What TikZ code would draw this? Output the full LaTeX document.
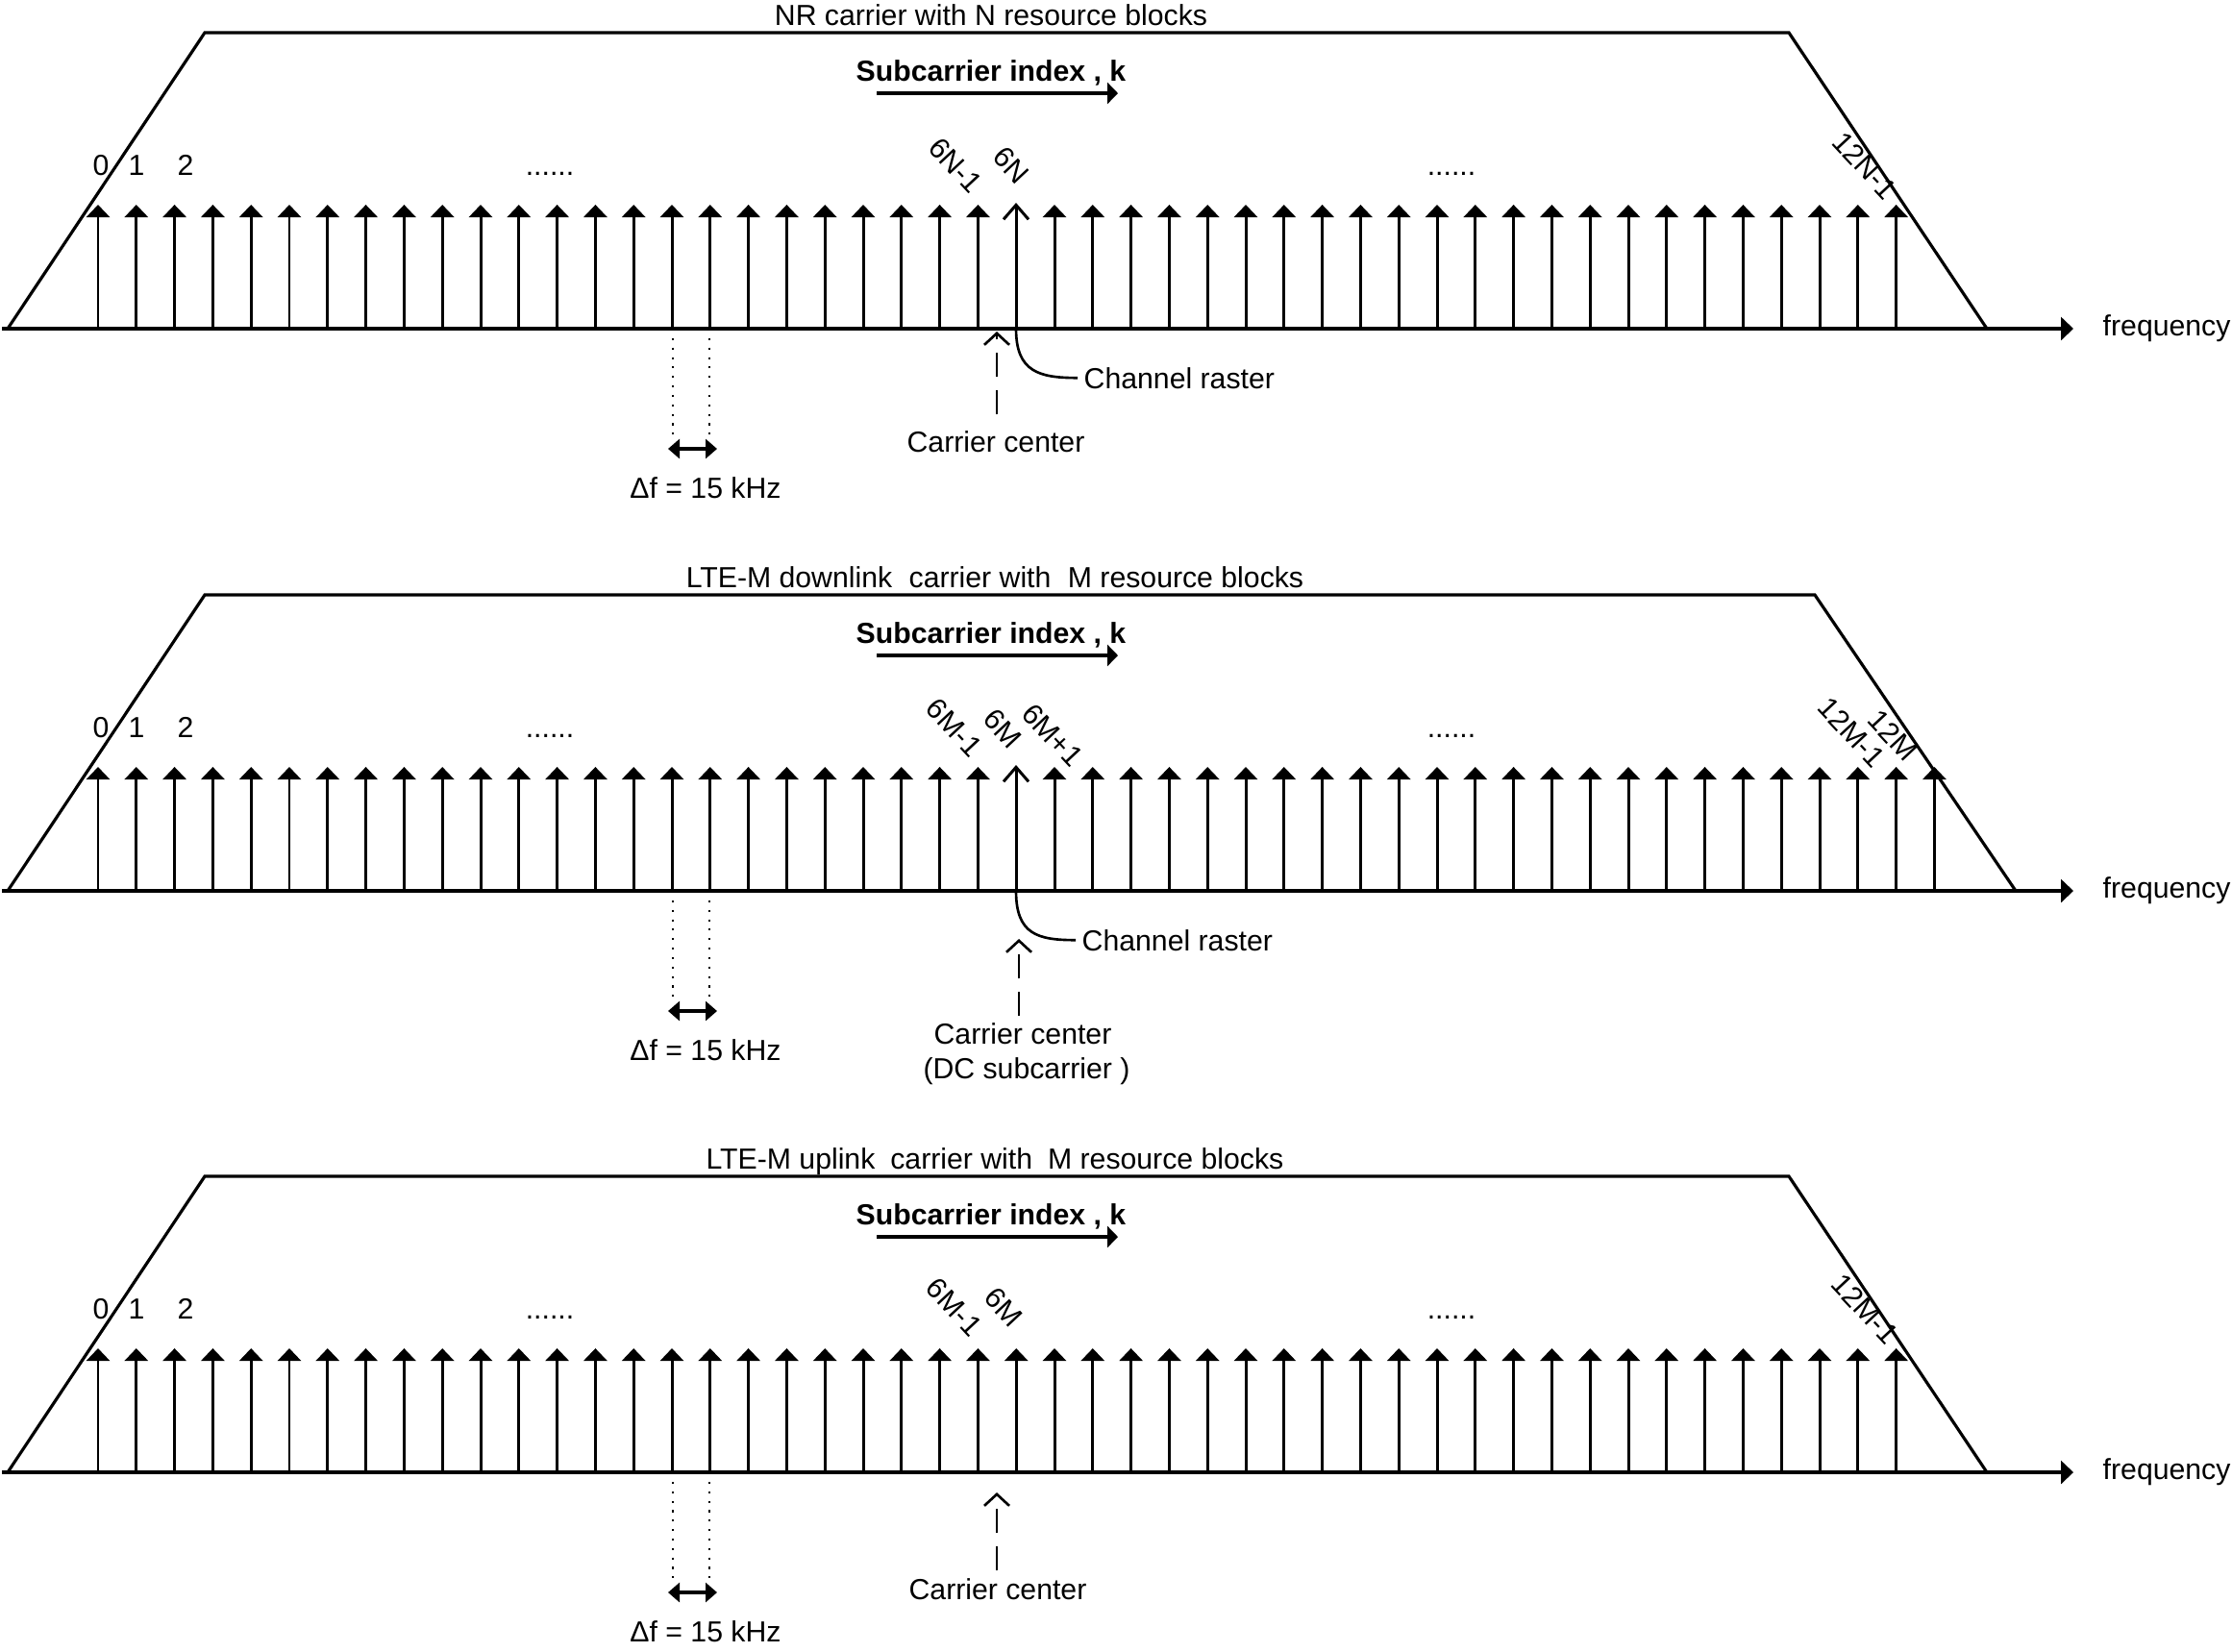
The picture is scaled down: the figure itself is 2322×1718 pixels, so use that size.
\documentclass[tikz,border=0pt]{standalone}
\usepackage{fontspec}
\setmainfont{Liberation Sans}
\usetikzlibrary{arrows.meta}
\newcommand{\figfont}{\fontsize{8.6pt}{10.8pt}\selectfont}
\tikzset{
  band/.style={line width=0.9pt,line join=miter},
  faxis/.style={line width=1.3pt,-{Triangle[length=1.3mm,width=2.4mm]}},
  kaxis/.style={line width=0.95pt,-{Triangle[length=1.1mm,width=2.2mm]}},
  subc/.style={line width=0.85pt,-{Triangle[length=1.3mm,width=2.4mm]}},
  dcsubc/.style={line width=0.85pt,-{Straight Barb[length=1.5mm,width=2.6mm]}},
  guide/.style={line width=0.6pt,dash pattern=on 0.6pt off 2.2pt},
  dfreq/.style={line width=0.95pt,{Triangle[length=1.2mm,width=2mm]}-{Triangle[length=1.2mm,width=2mm]}},
  ccmark/.style={line width=0.75pt,dash pattern=on 2.5mm off 1.4mm,-{Straight Barb[length=1.2mm,width=2.6mm]}},
  rasterline/.style={line width=0.75pt},
  lbl/.style={inner sep=0pt,anchor=base},
  idx/.style={inner sep=0pt,rotate=-47}
}

\begin{document}
\begin{tikzpicture}[x=0.1mm,y=-0.1mm,font=\figfont]
% one unit = one pixel of the 2322 x 1718 sheet, y running down
\useasboundingbox (0,0) rectangle (2322,1718);

% ---- panel (a): NR carrier ---------------------------------------------
\draw[band] (8,342) -- (213,34) -- (1861,34) -- (2067,342);
\node[lbl] (ttl1) at (1031,26) {NR carrier with N resource blocks};
\node[lbl,font=\figfont\bfseries] (sub1) at (1031,84) {Subcarrier index , k};
\coordinate (ka1) at (912,97);
\coordinate (kb1) at (1163,97);
\draw[kaxis] (ka1) -- (kb1);
\node[anchor=west,inner sep=0pt] (fq1) at (2187,342) {frequency};
\coordinate (o1) at (2,342);
\draw[faxis] (o1) -- ([xshift=-3mm]fq1.west);
% subcarriers, 39.8 px apart; number 24 is the raster one
\foreach \i in {0,...,23} \draw[subc] (102+39.8*\i,342) -- (102+39.8*\i,213);
\foreach \i in {25,...,47} \draw[subc] (102+39.8*\i,342) -- (102+39.8*\i,213);
\coordinate (r1) at (1057,342);
\draw[dcsubc] (r1) -- (1057,211);
\node[lbl] (i1a) at (105,182) {0};
\node[lbl] (i1b) at (142,182) {1};
\node[lbl] (i1c) at (193,182) {2};
\node[lbl] (dt1a) at (572,182) {......};
\node[lbl] (dt1b) at (1510,182) {......};
\node[idx] (i1d) at (994,172) {6N-1};
\node[idx] (i1e) at (1052,172) {6N};
\node[idx] (i1f) at (1940,172) {12N-1};
% spacing
\draw[guide] (700,342) -- (700,454);
\draw[guide] (738,342) -- (738,454);
\draw[dfreq] (695,467) -- (746,467);
\node[lbl] (df1) at (734,518) {Δf = 15 kHz};
% carrier centre and raster
\node[lbl] (cc1) at (1036,470) {Carrier center};
\coordinate (cm1) at (1037,345);
\draw[ccmark,shorten <=1.6mm] (cm1 |- cc1.north) -- (cm1);
\node[lbl,anchor=base west] (cr1) at (1127,404) {Channel raster};
\draw[rasterline] (r1) .. controls +(0,45) and +(-40,0) .. ([xshift=-0.6mm]cr1.west);

% ---- panel (b): LTE-M downlink ------------------------------------------
\begin{scope}[shift={(0,585)}]
\draw[band] (8,342) -- (213,34) -- (1888,34) -- (2097,342);
\node[lbl] (ttl2) at (1035,26) {LTE-M downlink\hspace{0.3em} carrier with\hspace{0.3em} M resource blocks};
\node[lbl,font=\figfont\bfseries] (sub2) at (1031,84) {Subcarrier index , k};
\coordinate (ka2) at (912,97);
\coordinate (kb2) at (1163,97);
\draw[kaxis] (ka2) -- (kb2);
\node[anchor=west,inner sep=0pt] (fq2) at (2187,342) {frequency};
\coordinate (o2) at (2,342);
\draw[faxis] (o2) -- ([xshift=-3mm]fq2.west);
% 12M+1 subcarriers, the DC one left empty
\foreach \i in {0,...,23} \draw[subc] (102+39.8*\i,342) -- (102+39.8*\i,213);
\foreach \i in {25,...,48} \draw[subc] (102+39.8*\i,342) -- (102+39.8*\i,213);
\coordinate (r2) at (1057,342);
\draw[dcsubc] (r2) -- (1057,211);
\node[lbl] (i2a) at (105,182) {0};
\node[lbl] (i2b) at (142,182) {1};
\node[lbl] (i2c) at (193,182) {2};
\node[lbl] (dt2a) at (572,182) {......};
\node[lbl] (dt2b) at (1510,182) {......};
\node[idx] (i2d) at (993,172) {6M-1};
\node[idx] (i2e) at (1043,173) {6M};
\node[idx] (i2f) at (1095,180) {6M+1};
\node[idx] (i2g) at (1926,177) {12M-1};
\node[idx] (i2h) at (1969,180) {12M};
\draw[guide] (700,342) -- (700,454);
\draw[guide] (738,342) -- (738,454);
\draw[dfreq] (695,467) -- (746,467);
\node[lbl] (df2) at (734,518) {Δf = 15 kHz};
\node[lbl] (cc2) at (1064,501) {Carrier center};
\node[lbl] (dc2) at (1068,537) {(DC subcarrier )};
\coordinate (cm2) at (1060,392);
\draw[ccmark,shorten <=0.6mm] (cm2 |- cc2.north) -- (cm2);
\node[lbl,anchor=base west] (cr2) at (1125,404) {Channel raster};
\draw[rasterline] (r2) .. controls +(0,45) and +(-40,0) .. ([xshift=-0.6mm]cr2.west);
\end{scope}

% ---- panel (c): LTE-M uplink --------------------------------------------
\begin{scope}[shift={(0,1190)}]
\draw[band] (8,342) -- (213,34) -- (1861,34) -- (2067,342);
\node[lbl] (ttl3) at (1035,26) {LTE-M uplink\hspace{0.25em} carrier with\hspace{0.25em} M resource blocks};
\node[lbl,font=\figfont\bfseries] (sub3) at (1031,84) {Subcarrier index , k};
\coordinate (ka3) at (912,97);
\coordinate (kb3) at (1163,97);
\draw[kaxis] (ka3) -- (kb3);
\node[anchor=west,inner sep=0pt] (fq3) at (2187,342) {frequency};
\coordinate (o3) at (2,342);
\draw[faxis] (o3) -- ([xshift=-3mm]fq3.west);
\foreach \i in {0,...,47} \draw[subc] (102+39.8*\i,342) -- (102+39.8*\i,213);
\node[lbl] (i3a) at (105,182) {0};
\node[lbl] (i3b) at (142,182) {1};
\node[lbl] (i3c) at (193,182) {2};
\node[lbl] (dt3a) at (572,182) {......};
\node[lbl] (dt3b) at (1510,182) {......};
\node[idx] (i3d) at (993,170) {6M-1};
\node[idx] (i3e) at (1044,170) {6M};
\node[idx] (i3f) at (1940,172) {12M-1};
\draw[guide] (700,342) -- (700,454);
\draw[guide] (738,342) -- (738,454);
\draw[dfreq] (695,467) -- (746,467);
\node[lbl] (df3) at (734,518) {Δf = 15 kHz};
\node[lbl] (cc3) at (1038,474) {Carrier center};
\coordinate (cm3) at (1037,363);
\draw[ccmark,shorten <=0.7mm] (cm3 |- cc3.north) -- (cm3);
\end{scope}
\end{tikzpicture}
\end{document}
